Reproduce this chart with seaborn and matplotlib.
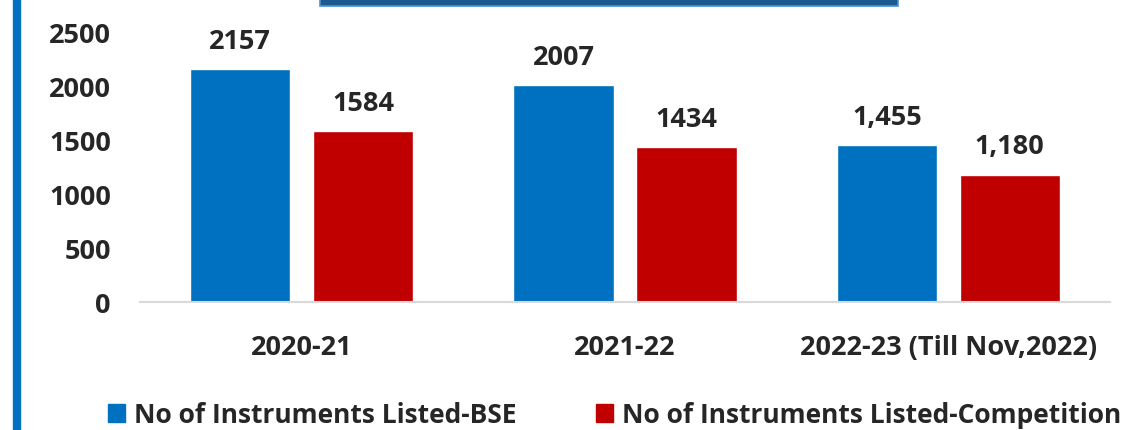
import pandas as pd
import matplotlib.pyplot as plt
import matplotlib.patches as mpatches
import seaborn as sns

# chart data
years = ['2020-21', '2021-22', '2022-23 (Till Nov,2022)']
bse = [2157, 2007, 1455]
competition = [1584, 1434, 1180]
bse_labels = ['2157', '2007', '1,455']
comp_labels = ['1584', '1434', '1,180']
series = ['No of Instruments Listed-BSE', 'No of Instruments Listed-Competition']

df = pd.DataFrame({
    'year': years * 2,
    'value': bse + competition,
    'series': [series[0]] * 3 + [series[1]] * 3,
})

sns.set_style('white')
plt.rcParams['font.family'] = ['Open Sans', 'DejaVu Sans']
plt.rcParams['font.weight'] = 'bold'
FS = 19.5

fig = plt.figure(figsize=(11.4, 4.31), dpi=100)
ax = fig.add_axes([0.1228, 0.297, 0.8509, 0.6266])

sns.barplot(data=df, x='year', y='value', hue='series',
            palette=['#0070C0', '#C00000'], width=0.76, gap=0.184,
            saturation=1, ax=ax, legend=False)

# value labels
for cont, labs in zip(ax.containers, [bse_labels, comp_labels]):
    ax.bar_label(cont, labels=labs, padding=11, fontsize=FS, fontweight='bold')

ax.set_ylim(0, 2500)
ax.set_yticks([0, 500, 1000, 1500, 2000, 2500])
ax.set_xlabel('')
ax.set_ylabel('')
ax.tick_params(axis='y', labelsize=FS, pad=21, length=0)
ax.tick_params(axis='x', labelsize=FS, pad=23, length=0)
for lab in ax.get_xticklabels() + ax.get_yticklabels():
    lab.set_fontweight('bold')

for s in ['top', 'right', 'left']:
    ax.spines[s].set_visible(False)
ax.spines['bottom'].set_color('#D9D9D9')
ax.spines['bottom'].set_linewidth(1.5)

# legend
handles = [mpatches.Patch(color='#0070C0', label=series[0]),
           mpatches.Patch(color='#C00000', label=series[1])]
fig.legend(handles=handles, loc='center', bbox_to_anchor=(0.539, 0.035),
           ncol=2, frameon=False, handlelength=0.65,
           handleheight=0.65, handletextpad=0.35, columnspacing=3.0,
           prop={'weight': 'bold', 'size': 19})

# decorative frame pieces
fig.add_artist(mpatches.Rectangle((13 / 1140, 0), 7 / 1140, 1,
                                  transform=fig.transFigure, color='#0070C0'))
fig.add_artist(mpatches.Rectangle((320 / 1140, 1 - 7 / 431), 578 / 1140, 7 / 431,
                                  transform=fig.transFigure, facecolor='#1B5A8F',
                                  edgecolor='#4A90D0', linewidth=1.2))

fig.savefig('out.png', dpi=100)
